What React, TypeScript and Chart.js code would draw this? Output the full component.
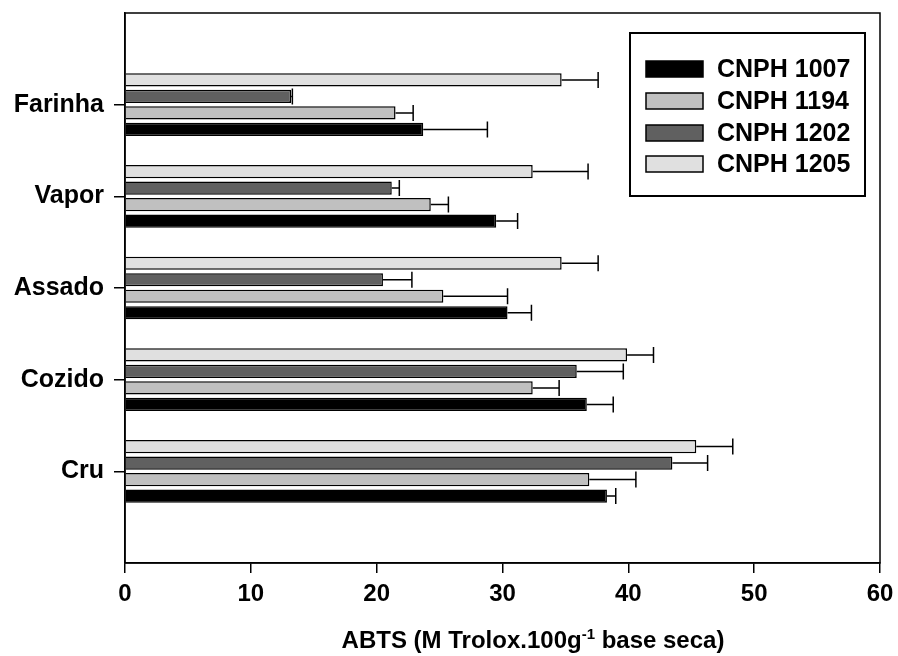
import React, { useEffect, useRef } from "react";
import { Chart, registerables } from "chart.js";

Chart.register(...registerables);

// Categories (top to bottom)
const categories = ["Farinha", "Vapor", "Assado", "Cozido", "Cru"];

// Series (values in category order above)
const seriesNames = ["CNPH 1007", "CNPH 1194", "CNPH 1202", "CNPH 1205"];
const seriesColors = ["#000000", "#c0c0c0", "#606060", "#e0e0e0"];

const cnph1007 = [23.7, 29.5, 30.4, 36.7, 38.3];
const cnph1194 = [21.5, 24.3, 25.3, 32.4, 36.9];
const cnph1202 = [13.2, 21.2, 20.5, 35.9, 43.5];
const cnph1205 = [34.7, 32.4, 34.7, 39.9, 45.4];

const err1007 = [5.1, 1.7, 1.9, 2.1, 0.7];
const err1194 = [1.4, 1.4, 5.1, 2.1, 3.7];
const err1202 = [0.1, 0.6, 2.3, 3.7, 2.8];
const err1205 = [2.9, 4.4, 2.9, 2.1, 2.9];

const xTicks = [0, 10, 20, 30, 40, 50, 60];
const xTitleMain = "ABTS (M Trolox.100g";
const xTitleSup = "-1";
const xTitleEnd = " base seca)";

const FONT = "'Liberation Sans', Arial, Helvetica, sans-serif";

const pad = (arr: (number | null)[]) => [null, ...arr, null];

export default function App() {
  const ref = useRef<HTMLCanvasElement | null>(null);

  useEffect(() => {
    if (!ref.current) return;
    const values = [cnph1007, cnph1194, cnph1202, cnph1205];
    const errors = [err1007, err1194, err1202, err1205];
    // draw order top-to-bottom inside a group: 1205, 1202, 1194, 1007
    const order = [3, 2, 1, 0];

    const datasets = order.map((i) => ({
      label: seriesNames[i],
      data: pad(values[i]),
      errors: pad(errors[i]),
      backgroundColor: seriesColors[i],
      borderColor: "#000000",
      borderWidth: 1.5,
      borderSkipped: "start" as const,
      categoryPercentage: 0.72,
      barPercentage: 0.8,
    }));

    const overlay = {
      id: "overlay",
      afterDatasetsDraw(chart: any) {
        const ctx = chart.ctx;
        const xs = chart.scales.x;
        ctx.save();
        ctx.strokeStyle = "#000";
        ctx.lineWidth = 1.5;
        chart.data.datasets.forEach((ds: any, di: number) => {
          const meta = chart.getDatasetMeta(di);
          meta.data.forEach((bar: any, j: number) => {
            const v = ds.data[j];
            const e = ds.errors[j];
            if (v == null || e == null) return;
            const x0 = xs.getPixelForValue(v);
            const x1 = xs.getPixelForValue(v + e);
            const y = bar.y;
            ctx.beginPath();
            ctx.moveTo(x0, y);
            ctx.lineTo(x1, y);
            ctx.moveTo(x1, y - 8);
            ctx.lineTo(x1, y + 8);
            ctx.stroke();
          });
        });
        ctx.restore();
      },
      afterDraw(chart: any) {
        const ctx = chart.ctx;
        const a = chart.chartArea;
        ctx.save();
        // frame
        ctx.strokeStyle = "#000";
        ctx.lineWidth = 1.5;
        ctx.strokeRect(a.left, a.top, a.right - a.left, a.bottom - a.top);

        // legend
        const lx = 630, ly = 33, lw = 235, lh = 163;
        ctx.lineWidth = 2;
        ctx.fillStyle = "#fff";
        ctx.fillRect(lx, ly, lw, lh);
        ctx.strokeRect(lx, ly, lw, lh);
        ctx.font = `bold 25px ${FONT}`;
        ctx.textBaseline = "middle";
        ctx.textAlign = "left";
        const rows = [69, 101, 133, 164];
        seriesNames.forEach((name, i) => {
          const cy = rows[i];
          ctx.fillStyle = seriesColors[i];
          ctx.fillRect(646, cy - 8, 57, 16);
          ctx.lineWidth = 1.5;
          ctx.strokeStyle = "#000";
          ctx.strokeRect(646, cy - 8, 57, 16);
          ctx.fillStyle = "#000";
          ctx.fillText(name, 717, cy + 1);
        });

        // x axis title with superscript
        ctx.fillStyle = "#000";
        ctx.textBaseline = "alphabetic";
        const big = `bold 24px ${FONT}`;
        const small = `bold 15px ${FONT}`;
        ctx.font = big;
        const w1 = ctx.measureText(xTitleMain).width;
        const w3 = ctx.measureText(xTitleEnd).width;
        ctx.font = small;
        const w2 = ctx.measureText(xTitleSup).width;
        const total = w1 + w2 + w3;
        const cx = 533;
        let x = cx - total / 2;
        const by = 648;
        ctx.font = big;
        ctx.fillText(xTitleMain, x, by);
        x += w1;
        ctx.font = small;
        ctx.fillText(xTitleSup, x, by - 9);
        x += w2;
        ctx.font = big;
        ctx.fillText(xTitleEnd, x, by);
        ctx.restore();
      },
    };

    const chart = new Chart(ref.current, {
      type: "bar",
      data: {
        labels: ["", ...categories, ""],
        datasets: datasets as any,
      },
      options: {
        indexAxis: "y",
        animation: false,
        responsive: true,
        maintainAspectRatio: false,
        layout: { padding: { top: 13, right: 18, left: 0, bottom: 0 } },
        plugins: {
          legend: { display: false },
          tooltip: { enabled: false },
        },
        scales: {
          x: {
            type: "linear",
            min: 0,
            max: 60,
            afterFit: (s: any) => {
              s.height = 93;
              s.paddingLeft = 0;
              s.paddingRight = 0;
            },
            afterBuildTicks: (s: any) => {
              s.ticks = xTicks.map((v) => ({ value: v }));
            },
            grid: {
              drawOnChartArea: false,
              drawTicks: true,
              tickLength: 10,
              color: "#000",
              lineWidth: 1.5,
            },
            border: { display: true, color: "#000", width: 1.5 },
            ticks: {
              color: "#000",
              padding: 7,
              font: { family: FONT, size: 24, weight: "bold" },
            },
          },
          y: {
            type: "category",
            offset: false,
            afterFit: (s: any) => {
              s.width = 125;
              s.paddingTop = 0;
              s.paddingBottom = 0;
            },
            grid: {
              offset: false,
              drawOnChartArea: false,
              drawTicks: true,
              tickLength: 11,
              color: (c: any) =>
                c.index === 0 || c.index === categories.length + 1
                  ? "rgba(0,0,0,0)"
                  : "#000",
              lineWidth: 1.5,
            },
            border: { display: true, color: "#000", width: 1.5 },
            ticks: {
              color: "#000",
              padding: 10,
              font: { family: FONT, size: 25, weight: "bold" },
            },
          },
        },
      },
      plugins: [overlay],
    });
    return () => chart.destroy();
  }, []);

  return (
    <div
      style={{
        position: "fixed",
        left: 0,
        top: 0,
        width: 898,
        height: 656,
        background: "#fff",
      }}
    >
      <canvas ref={ref} />
    </div>
  );
}
